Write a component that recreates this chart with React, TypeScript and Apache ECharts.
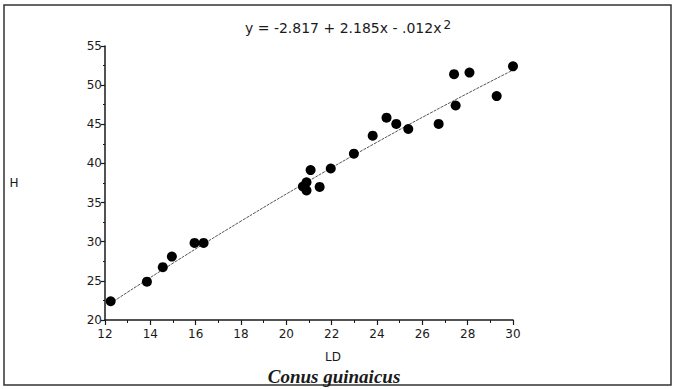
import React, { useEffect, useRef } from "react";
import * as echarts from "echarts";

// Measured points: LD (x) and H (y)
const ldValues = [12.25, 13.85, 14.55, 14.95, 15.95, 16.35, 20.73, 20.89, 20.89, 21.07, 21.47, 21.96, 22.98, 23.81, 24.42, 24.85, 25.38, 26.72, 27.4, 27.47, 28.08, 29.28, 30.0];
const hValues = [22.4, 24.9, 26.75, 28.1, 29.85, 29.85, 37.05, 37.6, 36.55, 39.15, 37.0, 39.35, 41.25, 43.55, 45.85, 45.05, 44.4, 45.05, 51.4, 47.4, 51.6, 48.6, 52.4];

// Fitted curve y = -2.817 + 2.185x - .012x^2 (read at a few LD values)
const fitLD = [12.25, 15, 18, 21, 24, 27, 30];
const fitH = [22.15, 27.26, 32.63, 37.78, 42.71, 47.43, 51.93];

const xAxisRange = { min: 12, max: 30, step: 2 };
const yAxisRange = { min: 20, max: 55, step: 5 };

const equationText = "y = -2.817 + 2.185x - .012x";
const equationSup = "2";
const xTitle = "LD";
const yTitle = "H";
const speciesTitle = "Conus guinaicus";

export default function App() {
  const ref = useRef<HTMLDivElement>(null);
  useEffect(() => {
    if (!ref.current) return;
    const chart = echarts.init(ref.current, null, { renderer: "svg" });
    const ink = "#1a1a1a";
    const sans = "'DejaVu Sans', 'Open Sans', sans-serif";
    chart.setOption({
      animation: false,
      backgroundColor: "#ffffff",
      grid: { left: 105, right: 162, top: 46, bottom: 69, containLabel: false },
      xAxis: {
        type: "value",
        min: xAxisRange.min,
        max: xAxisRange.max,
        interval: xAxisRange.step,
        axisLine: { show: true, onZero: false, lineStyle: { color: ink, width: 1.5 } },
        axisTick: { show: true, length: 5, lineStyle: { color: ink, width: 1.2 } },
        minorTick: { show: true, splitNumber: 2, length: 3, lineStyle: { color: ink, width: 1 } },
        axisLabel: { color: ink, fontSize: 12, fontFamily: sans, margin: 8 },
        splitLine: { show: false },
      },
      yAxis: {
        type: "value",
        min: yAxisRange.min,
        max: yAxisRange.max,
        interval: yAxisRange.step,
        axisLine: { show: true, onZero: false, lineStyle: { color: ink, width: 1.5 } },
        axisTick: { show: true, length: 4, lineStyle: { color: ink, width: 1.2 } },
        minorTick: { show: true, splitNumber: 2, length: 2, lineStyle: { color: ink, width: 1 } },
        axisLabel: { color: ink, fontSize: 12, fontFamily: sans, margin: 3 },
        splitLine: { show: false },
      },
      series: [
        {
          type: "line",
          data: fitLD.map((x, i) => [x, fitH[i]]),
          smooth: true,
          showSymbol: false,
          symbol: "none",
          lineStyle: { color: "#555555", width: 1, type: [3, 1] },
          z: 1,
        },
        {
          type: "scatter",
          data: ldValues.map((x, i) => [x, hValues[i]]),
          symbol: "circle",
          symbolSize: 10,
          clip: false,
          itemStyle: { color: "#000000", opacity: 1 },
          z: 2,
        },
      ],
      graphic: [
        {
          type: "rect",
          shape: { x: 4, y: 5, width: 667, height: 380 },
          style: { fill: "none", stroke: "#333333", lineWidth: 1.5 },
          silent: true,
        },
        {
          type: "text",
          x: 348,
          y: 27,
          style: {
            text: "{a|" + equationText + "}{s|" + equationSup + "}",
            align: "center",
            verticalAlign: "middle",
            fill: ink,
            rich: {
              a: { fontSize: 14, fontFamily: sans, fill: ink, verticalAlign: "bottom", lineHeight: 16 },
              s: { fontSize: 12, fontFamily: sans, fill: ink, verticalAlign: "top", lineHeight: 16, padding: [0, 0, 6, 2] },
            },
          },
        },
        {
          type: "text",
          x: 14,
          y: 183,
          style: { text: yTitle, fontSize: 12, fontFamily: sans, fill: ink, align: "center", verticalAlign: "middle" },
        },
        {
          type: "text",
          x: 333,
          y: 357,
          style: { text: xTitle, fontSize: 12, fontFamily: sans, fill: ink, align: "center", verticalAlign: "middle" },
        },
        {
          type: "text",
          x: 334,
          y: 376,
          style: {
            text: speciesTitle,
            fontSize: 19,
            fontStyle: "italic",
            fontWeight: "bold",
            fontFamily: "'Liberation Serif', 'DejaVu Serif', serif",
            fill: ink,
            align: "center",
            verticalAlign: "middle",
          },
        },
      ],
    });
    return () => chart.dispose();
  }, []);
  return <div ref={ref} style={{ width: 675, height: 389, position: "absolute", left: 0, top: 0 }} />;
}
